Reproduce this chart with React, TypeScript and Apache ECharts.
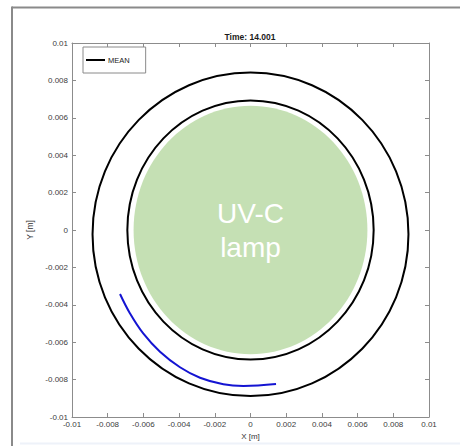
import React, { useEffect, useRef } from "react";
import * as echarts from "echarts";

// Axis range and tick spacing (metres)
const axisMin = -0.01;
const axisMax = 0.01;
const tickStep = 0.002;

const timeStamp = "14.001";

// Lamp body: centre and semi-axes in data units
const lampCenterX = [0];
const lampCenterY = [0];
const lampRadiusX = [0.00655];
const lampRadiusY = [0.00664];
const lampLabel = ["UV-C", "lamp"];

// Mean boundary rings (inner and outer)
const ringCenterX = [0, 0];
const ringCenterY = [0, -0.00023];
const ringRadiusX = [0.0069, 0.00885];
const ringRadiusY = [0.00693, 0.00865];

// Particle trajectory
const trajX = [-0.00731, -0.00675, -0.00601, -0.00507, -0.00395, -0.00283, -0.00152, -0.0004, 0.00143];
const trajY = [-0.00342, -0.00446, -0.00553, -0.00651, -0.00734, -0.0079, -0.00825, -0.00834, -0.00824];

const FONT = "'Liberation Sans', Arial, Helvetica, sans-serif";
const AXIS_GREY = "#8c8c8c";
const LABEL_GREY = "#3c3c3c";

const fmt = (v: number) => String(parseFloat(v.toFixed(4)));

function makeXAxis(position: "bottom" | "top") {
  const main = position === "bottom";
  return {
    type: "value",
    position,
    min: axisMin,
    max: axisMax,
    interval: tickStep,
    axisLine: { show: true, onZero: false, lineStyle: { color: AXIS_GREY, width: 1 } },
    axisTick: { show: true, inside: true, length: 4, lineStyle: { color: AXIS_GREY } },
    axisLabel: {
      show: main,
      fontSize: 8,
      color: LABEL_GREY,
      margin: 3,
      fontFamily: FONT,
      showMinLabel: true,
      showMaxLabel: true,
      formatter: fmt,
    },
    splitLine: { show: false },
    name: main ? "X [m]" : "",
    nameLocation: "middle",
    nameGap: 14,
    nameTextStyle: { fontSize: 8, color: "#333", fontFamily: FONT },
  };
}

function makeYAxis(position: "left" | "right") {
  const main = position === "left";
  return {
    type: "value",
    position,
    min: axisMin,
    max: axisMax,
    interval: tickStep,
    axisLine: { show: true, onZero: false, lineStyle: { color: AXIS_GREY, width: 1 } },
    axisTick: { show: true, inside: true, length: 4, lineStyle: { color: AXIS_GREY } },
    axisLabel: {
      show: main,
      fontSize: 8,
      color: LABEL_GREY,
      margin: 4,
      fontFamily: FONT,
      showMinLabel: true,
      showMaxLabel: true,
      formatter: fmt,
    },
    splitLine: { show: false },
    name: main ? "Y [m]" : "",
    nameLocation: "middle",
    nameGap: 20,
    nameTextStyle: { fontSize: 8.5, color: "#333", fontFamily: FONT },
  };
}

export default function App() {
  const ref = useRef<HTMLDivElement>(null);

  useEffect(() => {
    if (!ref.current) return;
    const chart = echarts.init(ref.current, null, { renderer: "svg" });

    const lampData = lampCenterX.map((x, i) => [x, lampCenterY[i], lampRadiusX[i], lampRadiusY[i]]);
    const ringData = ringCenterX.map((x, i) => [x, ringCenterY[i], ringRadiusX[i], ringRadiusY[i]]);
    const trajData = trajX.map((x, i) => [x, trajY[i]]);

    const option = {
      animation: false,
      textStyle: { fontFamily: FONT },
      title: {
        text: "Time: " + timeStamp,
        left: 250,
        top: 32,
        padding: 0,
        textAlign: "center",
        textStyle: { fontSize: 8.5, fontWeight: "bold", color: "#1a1a1a", fontFamily: FONT },
      },
      grid: { left: 72, top: 43, width: 357, height: 374, containLabel: false },
      legend: {
        left: 83,
        top: 47,
        orient: "vertical",
        padding: [9, 16, 9, 3],
        backgroundColor: "#fff",
        borderColor: "#8a8a8a",
        borderWidth: 1,
        borderRadius: 0,
        itemWidth: 19,
        itemHeight: 2,
        textStyle: { fontSize: 7.5, color: "#222", fontFamily: FONT, padding: [0, 0, 0, -2] },
        data: [{ name: "MEAN", icon: "rect", itemStyle: { color: "#000" } }],
        selectedMode: false,
      },
      xAxis: [makeXAxis("bottom"), makeXAxis("top")],
      yAxis: [makeYAxis("left"), makeYAxis("right")],
      series: [
        {
          name: "Lamp",
          type: "custom",
          xAxisIndex: 0,
          yAxisIndex: 0,
          encode: { x: 0, y: 1 },
          data: lampData,
          z: 1,
          renderItem: (_params: any, api: any) => {
            const c = api.coord([api.value(0), api.value(1)]);
            const s = api.size([api.value(2), api.value(3)]);
            return {
              type: "group",
              children: [
                {
                  type: "ellipse",
                  shape: { cx: c[0], cy: c[1], rx: s[0], ry: s[1] },
                  style: { fill: "#c5e0b4", stroke: "none" },
                },
                {
                  type: "text",
                  style: {
                    text: lampLabel.join("\n"),
                    x: c[0],
                    y: c[1],
                    align: "center",
                    verticalAlign: "middle",
                    fill: "#ffffff",
                    fontSize: 28,
                    lineHeight: 34,
                    fontFamily: FONT,
                  },
                },
              ],
            };
          },
        },
        {
          name: "MEAN",
          type: "custom",
          xAxisIndex: 0,
          yAxisIndex: 0,
          encode: { x: 0, y: 1 },
          data: ringData,
          itemStyle: { color: "#000" },
          z: 2,
          renderItem: (_params: any, api: any) => {
            const c = api.coord([api.value(0), api.value(1)]);
            const s = api.size([api.value(2), api.value(3)]);
            return {
              type: "ellipse",
              shape: { cx: c[0], cy: c[1], rx: s[0], ry: s[1] },
              style: { fill: "none", stroke: "#000", lineWidth: 2 },
            };
          },
        },
        {
          name: "Trajectory",
          type: "line",
          xAxisIndex: 0,
          yAxisIndex: 0,
          data: trajData,
          smooth: 0.4,
          showSymbol: false,
          symbol: "none",
          lineStyle: { color: "#1414d2", width: 2 },
          z: 3,
        },
      ],
      graphic: [
        {
          type: "line",
          shape: { x1: 12, y1: 7.5, x2: 460, y2: 7.5 },
          style: { stroke: "#8a8a8a", lineWidth: 2 },
          silent: true,
        },
        {
          type: "line",
          shape: { x1: 12, y1: 6.5, x2: 12, y2: 446 },
          style: { stroke: "#8a8a8a", lineWidth: 2 },
          silent: true,
        },
        {
          type: "line",
          shape: { x1: 20, y1: 443.5, x2: 460, y2: 443.5 },
          style: { stroke: "#eef2f9", lineWidth: 2 },
          silent: true,
        },
      ],
    };

    chart.setOption(option as any);
    return () => chart.dispose();
  }, []);

  return (
    <div
      ref={ref}
      style={{ position: "absolute", left: 0, top: 0, width: 460, height: 446, background: "#fff" }}
    />
  );
}
